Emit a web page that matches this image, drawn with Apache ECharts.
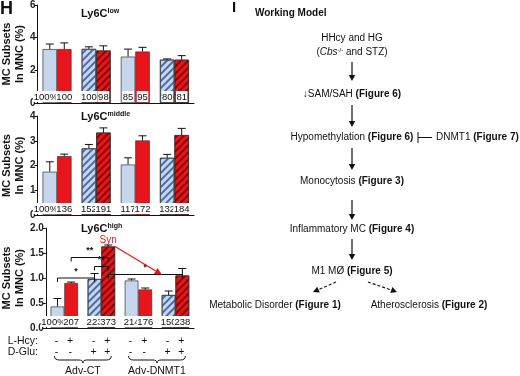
<!DOCTYPE html>
<html>
<head>
<meta charset="utf-8">
<script src="https://cdn.jsdelivr.net/npm/echarts@6.0.0/dist/echarts.min.js"></script>
<style>
  html, body { margin: 0; padding: 0; background: #fff; }
  #chart { width: 520px; height: 376px; }
</style>
</head>
<body>
<div id="chart"></div>
<script>
// groups: Adv-CT (-/+ D-Glu), Adv-DNMT1 (-/+ D-Glu); in each group left bar = no L-Hcy, right bar = L-Hcy
const groups = ['CT', 'CT + D-Glu', 'DNMT1', 'DNMT1 + D-Glu']
const hatched = [false, true, false, true]

// Ly6C low
const lowCtl = [3.30, 3.31, 2.84, 2.65]
const lowCtlErr = [0.31, 0.13, 0.46, 0.05]
const lowHcy = [3.30, 3.21, 3.15, 2.65]
const lowHcyErr = [0.38, 0.29, 0.26, 0.25]
const lowCtlLbl = ['100%', '100', '85', '80']
const lowHcyLbl = ['100', '98', '95', '81']

// Ly6C middle
const midCtl = [1.75, 2.69, 2.04, 2.31]
const midCtlErr = [0.40, 0.16, 0.27, 0.14]
const midHcy = [2.38, 3.33, 3.01, 3.23]
const midHcyErr = [0.08, 0.19, 0.19, 0.27]
const midCtlLbl = ['100%', '152', '117', '132']
const midHcyLbl = ['136', '191', '172', '184']

// Ly6C high
const highCtl = [0.43, 0.98, 0.95, 0.66]
const highCtlErr = [0.16, 0.11, 0.03, 0.08]
const highHcy = [0.90, 1.63, 0.77, 1.05]
const highHcyErr = [0.02, 0.03, 0.03, 0.14]
const highCtlLbl = ['100%', '223', '214', '150']
const highHcyLbl = ['207', '373', '176', '238']

// significance brackets in Ly6C high panel (bar index 0..7)
const sigLeft = [0, 1, 2, 3]
const sigRight = [2, 3, 3, 7]
const sigLevel = [1.0, 1.41, 1.23, 1.07]
const sigMark = ['*', '**', '**', '*']
// synergy arrow
const synFrom = 3
const synTo = 6
const synText = 'Syn'

// axis ticks
const lowTicks = [0, 2, 6]
const midTicks = [0, 1, 4]
const highTicks = [0, 0.5, 2]

const lHcySigns = ['-', '+', '-', '+', '-', '+', '-', '+']
const dGluSigns = ['-', '-', '+', '+', '-', '-', '+', '+']

const FONT = '"Liberation Sans", Arial, Helvetica, sans-serif'
const BAR_FRAC = 0.37
const LIGHT = '#c6d6ec'
const RED = '#e8161c'

const dom = document.getElementById('chart')
const chart = echarts.init(dom, null, { renderer: 'canvas' })

const barData = (vals, stripe, shiftFirst) => vals.map((v, i) => {
  const item = { value: v }
  if (hatched[i]) {
    item.itemStyle = {
      decal: {
        symbol: 'rect', symbolSize: 1, color: stripe,
        dashArrayX: [1, 0], dashArrayY: [1.1, 2.2], rotation: -Math.PI / 4
      }
    }
  }
  if (shiftFirst && i === 0) item.label = { offset: [-4, 0] }
  return item
})

const barSeries = (gi, vals, labels, color, stripe, shiftFirst) => ({
  type: 'bar',
  xAxisIndex: gi, yAxisIndex: gi,
  barWidth: (BAR_FRAC * 100) + '%',
  barGap: '0%',
  data: barData(vals, stripe, shiftFirst),
  itemStyle: { color: color, borderColor: '#333', borderWidth: 0.7 },
  label: {
    show: true, position: 'insideBottom', distance: 1,
    formatter: p => labels[p.dataIndex],
    backgroundColor: '#fff', padding: [1, 0.5, 0, 0.5],
    color: '#111', fontSize: 9.5, fontFamily: FONT, lineHeight: 10
  },
  emphasis: { disabled: true },
  z: 2
})

const barX = (api, idx) => {
  const bw = api.size([1, 0])[0] * BAR_FRAC
  return api.coord([Math.floor(idx / 2), 0])[0] + (idx % 2 ? 1 : -1) * bw / 2
}

const errSeries = (gi, vals, errs, side) => ({
  type: 'custom',
  xAxisIndex: gi, yAxisIndex: gi,
  z: 5, silent: true,
  data: vals.map((v, i) => [i, v, v + errs[i]]),
  renderItem: (params, api) => {
    const cx = barX(api, api.value(0) * 2 + side)
    const y0 = api.coord([0, api.value(1)])[1]
    const y1 = api.coord([0, api.value(2)])[1]
    const st = { stroke: '#111', lineWidth: 1 }
    return {
      type: 'group', children: [
        { type: 'line', shape: { x1: cx, y1: y0, x2: cx, y2: y1 }, style: st },
        { type: 'line', shape: { x1: cx - 4, y1: y1, x2: cx + 4, y2: y1 }, style: st }
      ]
    }
  }
})

const sigSeries = {
  type: 'custom', xAxisIndex: 2, yAxisIndex: 2, z: 8, silent: true,
  data: sigLevel.map(l => [0, l]),
  renderItem: (params, api) => {
    const i = params.dataIndex
    const xa = barX(api, sigLeft[i])
    const xb = barX(api, sigRight[i])
    const y = api.coord([0, sigLevel[i]])[1]
    const st = { stroke: '#111', lineWidth: 1 }
    return {
      type: 'group', children: [
        { type: 'polyline', shape: { points: [[xa, y + 4], [xa, y], [xb, y], [xb, y + 4]] }, style: { ...st, fill: null } },
        { type: 'text', style: { text: sigMark[i], x: (xa + xb) / 2, y: y - 2, align: 'center', verticalAlign: 'bottom', fontSize: 9, fontWeight: 'bold', fontFamily: FONT, fill: '#111' } }
      ]
    }
  }
}

const synSeries = {
  type: 'custom', xAxisIndex: 2, yAxisIndex: 2, z: 9, silent: true,
  data: [[0, highHcy[1]]],
  renderItem: (params, api) => {
    const bw = api.size([1, 0])[0] * BAR_FRAC
    const x1 = barX(api, synFrom) + bw / 2
    const y1 = api.coord([0, highHcy[Math.floor(synFrom / 2)]])[1]
    const x2 = barX(api, synTo) - bw / 2
    const y2 = api.coord([0, sigLevel[3]])[1]
    const ang = Math.atan2(y2 - y1, x2 - x1)
    const L = 7, W = 3.5
    const bx = x2 - L * Math.cos(ang), by = y2 - L * Math.sin(ang)
    const px = -Math.sin(ang) * W, py = Math.cos(ang) * W
    return {
      type: 'group', children: [
        { type: 'line', shape: { x1: x1, y1: y1, x2: bx, y2: by }, style: { stroke: RED, lineWidth: 1.2 } },
        { type: 'polygon', shape: { points: [[x2, y2], [bx + px, by + py], [bx - px, by - py]] }, style: { fill: RED } },
        { type: 'text', style: { text: synText, x: barX(api, synFrom), y: y1 - 1, align: 'center', verticalAlign: 'bottom', fontSize: 10, fontFamily: FONT, fill: RED } }
      ]
    }
  }
}

const gridDefs = [
  { left: 36, top: 4.5, width: 158, height: 98.5 },
  { left: 36, top: 116, width: 158, height: 99 },
  { left: 36, top: 228, width: 158, height: 100 }
]

const yAxisDef = (gi, ticks, digits) => ({
  type: 'value', gridIndex: gi,
  min: ticks[0], interval: ticks[1], max: ticks[2],
  name: 'MC Subsets\nIn MNC (%)', nameLocation: 'middle', nameRotate: 90, nameGap: 11,
  nameTextStyle: { fontSize: 11, fontWeight: 'bold', fontFamily: FONT, color: '#111', lineHeight: 12.5 },
  axisLine: { show: true, lineStyle: { color: '#111', width: 1 } },
  axisTick: { show: true, length: 3, lineStyle: { color: '#111' } },
  splitLine: { show: false },
  axisLabel: { fontSize: 10, fontWeight: 'bold', fontFamily: FONT, color: '#222', margin: 2, formatter: v => v.toFixed(digits) }
})

const xAxisDef = gi => ({
  type: 'category', gridIndex: gi, data: groups,
  axisLine: { show: true, onZero: false, lineStyle: { color: '#111', width: 1 } },
  axisTick: { show: false }, axisLabel: { show: false }
})

const option = {
  animation: false,
  backgroundColor: '#fff',
  textStyle: { fontFamily: FONT },
  grid: gridDefs,
  xAxis: [xAxisDef(0), xAxisDef(1), xAxisDef(2)],
  yAxis: [yAxisDef(0, lowTicks, 0), yAxisDef(1, midTicks, 0), yAxisDef(2, highTicks, 1)],
  series: [
    barSeries(0, lowCtl, lowCtlLbl, LIGHT, '#4a6da6', true),
    barSeries(0, lowHcy, lowHcyLbl, RED, '#8a0000', false),
    errSeries(0, lowCtl, lowCtlErr, 0), errSeries(0, lowHcy, lowHcyErr, 1),
    barSeries(1, midCtl, midCtlLbl, LIGHT, '#4a6da6', true),
    barSeries(1, midHcy, midHcyLbl, RED, '#8a0000', false),
    errSeries(1, midCtl, midCtlErr, 0), errSeries(1, midHcy, midHcyErr, 1),
    barSeries(2, highCtl, highCtlLbl, LIGHT, '#4a6da6', true),
    barSeries(2, highHcy, highHcyLbl, RED, '#8a0000', false),
    errSeries(2, highCtl, highCtlErr, 0), errSeries(2, highHcy, highHcyErr, 1),
    sigSeries, synSeries
  ]
}
chart.setOption(option)

// ---- text, labels and working model drawn as graphics ----
const RICH = {
  b: { fontWeight: 'bold', fontSize: 10, fontFamily: FONT, fill: '#111' },
  i: { fontStyle: 'italic', fontSize: 10, fontFamily: FONT, fill: '#111' },
  sup: { fontSize: 6, fontFamily: FONT, fill: '#111', verticalAlign: 'top', padding: [0, 0, 4, 0] },
  t: { fontWeight: 'bold', fontSize: 11, fontFamily: FONT, fill: '#111' },
  ts: { fontWeight: 'bold', fontSize: 7, fontFamily: FONT, fill: '#111', verticalAlign: 'top', padding: [0, 0, 5, 0] }
}
const txt = (x, y, text, extra) => ({
  type: 'text', x: x, y: y, silent: true,
  style: Object.assign({ text: text, fontSize: 10, fontFamily: FONT, fill: '#111', align: 'center', verticalAlign: 'middle', rich: RICH }, extra || {})
})
const line = (x1, y1, x2, y2, extra) => ({
  type: 'line', silent: true, shape: { x1, y1, x2, y2 },
  style: Object.assign({ stroke: '#111', lineWidth: 1.2 }, extra || {})
})
const arrow = (x1, y1, x2, y2, dashed) => {
  const ang = Math.atan2(y2 - y1, x2 - x1)
  const L = 6, W = 3.2
  const bx = x2 - L * Math.cos(ang), by = y2 - L * Math.sin(ang)
  const px = -Math.sin(ang) * W, py = Math.cos(ang) * W
  return [
    line(x1, y1, bx, by, dashed ? { lineDash: [3, 2], lineWidth: 1.1 } : {}),
    { type: 'polygon', silent: true, shape: { points: [[x2, y2], [bx + px, by + py], [bx - px, by - py]] }, style: { fill: '#111' } }
  ]
}

// curly brace under a group, as a polyline of quadratic pieces
const brace = (x1, x2, y) => {
  const m = (x1 + x2) / 2
  const pts = []
  const quad = (p0, p1, p2) => {
    for (let t = 0; t <= 1.0001; t += 0.25) {
      const a = (1 - t) * (1 - t), b = 2 * (1 - t) * t, c = t * t
      pts.push([a * p0[0] + b * p1[0] + c * p2[0], a * p0[1] + b * p1[1] + c * p2[1]])
    }
  }
  quad([x1, y], [x1, y + 4], [x1 + 5, y + 4])
  quad([m - 4, y + 4], [m, y + 4], [m, y + 7])
  quad([m, y + 7], [m, y + 4], [m + 4, y + 4])
  quad([x2 - 5, y + 4], [x2, y + 4], [x2, y])
  return { type: 'polyline', silent: true, shape: { points: pts }, style: { stroke: '#111', lineWidth: 1, fill: null } }
}

const band = chart.convertToPixel({ xAxisIndex: 2 }, 1) - chart.convertToPixel({ xAxisIndex: 2 }, 0)
const barPx = idx => chart.convertToPixel({ xAxisIndex: 2 }, Math.floor(idx / 2)) + (idx % 2 ? 1 : -1) * band * BAR_FRAC / 2

const g = []
// panel letters
g.push(txt(0, 0, 'H', { fontSize: 18, fontWeight: 'bold', align: 'left', verticalAlign: 'top' }))
g.push(txt(232, 0, 'I', { fontSize: 15, fontWeight: 'bold', align: 'left', verticalAlign: 'top' }))
// panel titles
g.push(txt(81, 14, '{t|Ly6C}{ts|low}', { align: 'left' }))
g.push(txt(81, 117, '{t|Ly6C}{ts|middle}', { align: 'left' }))
g.push(txt(81, 229, '{t|Ly6C}{ts|high}', { align: 'left' }))
// treatment rows
g.push(txt(38, 341.5, 'L-Hcy:', { align: 'right', fontSize: 10.5 }))
g.push(txt(38, 352.5, 'D-Glu:', { align: 'right', fontSize: 10.5 }))
lHcySigns.forEach((s, i) => g.push(txt(barPx(i) - 1, 341.5, s, { fontSize: 10.5 })))
dGluSigns.forEach((s, i) => g.push(txt(barPx(i) - 1, 352.5, s, { fontSize: 10.5 })))
g.push(brace(barPx(0) - 3, barPx(3) + 3, 356))
g.push(brace(barPx(4) - 3, barPx(7) + 3, 356))
g.push(txt((barPx(0) + barPx(3)) / 2, 371, 'Adv-CT', { fontSize: 10.5 }))
g.push(txt((barPx(4) + barPx(7)) / 2, 371, 'Adv-DNMT1', { fontSize: 10.5 }))

// working model
const cx = 352
g.push(txt(255, 13, 'Working Model', { fontWeight: 'bold', align: 'left' }))
g.push(txt(cx, 38.5, 'HHcy and HG'))
g.push(txt(cx, 52, '({i|Cbs}{sup|-/-} and STZ)'))
g.push(...arrow(cx, 62, cx, 81))
g.push(txt(cx, 94.5, '↓SAM/SAH {b|(Figure 6)}'))
g.push(...arrow(cx, 105, cx, 127))
g.push(txt(cx, 137.5, 'Hypomethylation {b|(Figure 6)}'))
g.push(line(418, 132, 418, 143, { lineWidth: 1 }))
g.push(line(418, 137.5, 432, 137.5, { lineWidth: 1 }))
g.push(txt(436, 137.5, 'DNMT1 {b|(Figure 7)}', { align: 'left' }))
g.push(...arrow(cx, 148, cx, 170))
g.push(txt(cx, 181.5, 'Monocytosis {b|(Figure 3)}'))
g.push(...arrow(cx, 200, cx, 220))
g.push(txt(cx, 229.5, 'Inflammatory MC {b|(Figure 4)}'))
g.push(...arrow(cx, 239, cx, 260))
g.push(txt(cx, 271, 'M1 MØ {b|(Figure 5)}'))
g.push(...arrow(336, 282, 313, 292, true))
g.push(...arrow(368, 282, 397, 292, true))
g.push(txt(275, 305, 'Metabolic Disorder {b|(Figure 1)}'))
g.push(txt(429, 305, 'Atherosclerosis {b|(Figure 2)}'))

chart.setOption({ graphic: { elements: g } })

window.addEventListener('resize', () => {
  chart.resize()
})
</script>
</body>
</html>
